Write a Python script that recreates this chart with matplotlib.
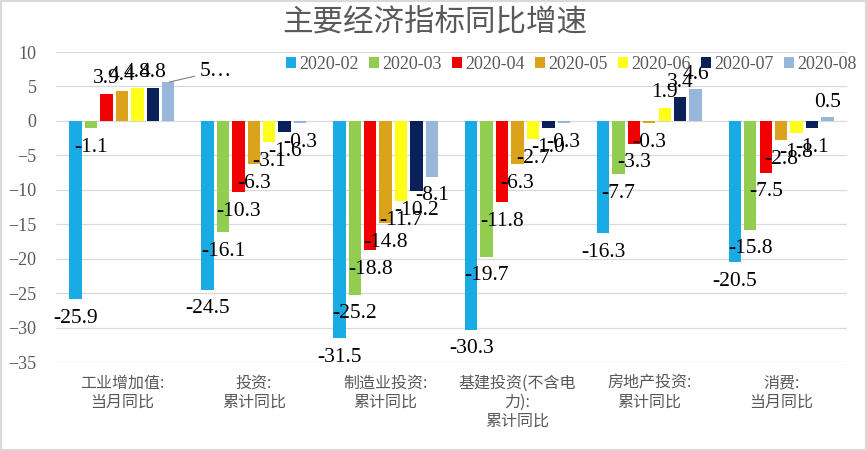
import matplotlib
matplotlib.use("Agg")
import matplotlib.pyplot as plt
from matplotlib.patches import Rectangle
import numpy as np

        ## Data ##

categories = ["工业增加值:\n当月同比", "投资:\n累计同比", "制造业投资:\n累计同比",
              "基建投资(不含电\n力):\n累计同比", "房地产投资:\n累计同比", "消费:\n当月同比"]
months = ["2020-02", "2020-03", "2020-04", "2020-05", "2020-06", "2020-07", "2020-08"]

m2020_02 = [-25.9, -24.5, -31.5, -30.3, -16.3, -20.5]
m2020_03 = [-1.1, -16.1, -25.2, -19.7, -7.7, -15.8]
m2020_04 = [3.9, -10.3, -18.8, -11.8, -3.3, -7.5]
m2020_05 = [4.4, -6.3, -14.8, -6.3, -0.3, -2.8]
m2020_06 = [4.8, -3.1, -11.7, -2.7, 1.9, -1.8]
m2020_07 = [4.8, -1.6, -10.2, -1.0, 3.4, -1.1]
m2020_08 = [5.6, -0.3, -8.1, -0.3, 4.6, 0.5]

series = [m2020_02, m2020_03, m2020_04, m2020_05, m2020_06, m2020_07, m2020_08]
colors = ["#19ABE3", "#92CC50", "#F00000", "#DBA21B", "#FFFF17", "#0A2059", "#97B6DA"]

serif = "Liberation Serif"
cjk = ["Noto Sans CJK SC", "DejaVu Sans"]
grey = "#595959"

        ## Figure ##

fig = plt.figure(figsize=(8.67, 4.51), dpi=100)
ax = fig.add_axes([0.0646, 0.1973, 0.9124, 0.6874])

x = np.arange(len(categories))
pitch = 0.117
width = 0.094

for j, vals in enumerate(series):
    xs = x + (j - 3) * pitch
    ax.bar(xs, vals, width=width, color=colors[j], label=months[j], zorder=2)
    for xi, v in zip(xs, vals):
        if j == 6 and xi < 0.5:
            # excel moved this label and cut it short
            ax.annotate("5…", xy=(xi, v), xytext=(23, 8), textcoords="offset points",
                        ha="left", va="center", fontsize=15.5, family=serif,
                        arrowprops=dict(arrowstyle="-", color="#7F7F7F", lw=0.8,
                                        shrinkA=2, shrinkB=1))
            continue
        if v < 0:
            ax.annotate(f"{v:.1f}", xy=(xi, v), xytext=(0, -7), textcoords="offset points",
                        ha="center", va="top", fontsize=15.5, family=serif, color="black")
        else:
            ax.annotate(f"{v:.1f}", xy=(xi, v), xytext=(0, 4), textcoords="offset points",
                        ha="center", va="bottom", fontsize=15.5, family=serif, color="black")

ax.set_xlim(-0.5, len(categories) - 0.5)
ax.set_ylim(-35, 10)
ax.set_yticks(np.arange(-35, 11, 5))
ax.yaxis.grid(True, color="#D9D9D9", lw=0.9, zorder=0)
ax.set_axisbelow(True)
for s in ax.spines.values():
    s.set_visible(False)
ax.tick_params(length=0)
ax.tick_params(axis="y", pad=14, labelsize=13, labelcolor=grey)
for t in ax.get_yticklabels():
    t.set_family(serif)

ax.set_xticks(x)
ax.set_xticklabels(categories, family=cjk, fontsize=11.5, color=grey,
                   fontweight="light", linespacing=1.15)
ax.tick_params(axis="x", pad=9)

fig.text(0.502, 0.951, "主要经济指标同比增速", ha="center", va="center",
         fontsize=22, color=grey, family=cjk, fontweight="light")

leg = fig.legend(loc="center", bbox_to_anchor=(0.659, 0.858), ncol=7, frameon=False,
                 prop={"family": serif, "size": 13}, handlelength=0.55, handleheight=0.55,
                 handletextpad=0.2, columnspacing=0.55)
for t in leg.get_texts():
    t.set_color(grey)

fig.patches.append(Rectangle((0, 0), 1, 1, transform=fig.transFigure, fill=False,
                             edgecolor="#D9D9D9", lw=3))

fig.savefig("out.png", dpi=100)
